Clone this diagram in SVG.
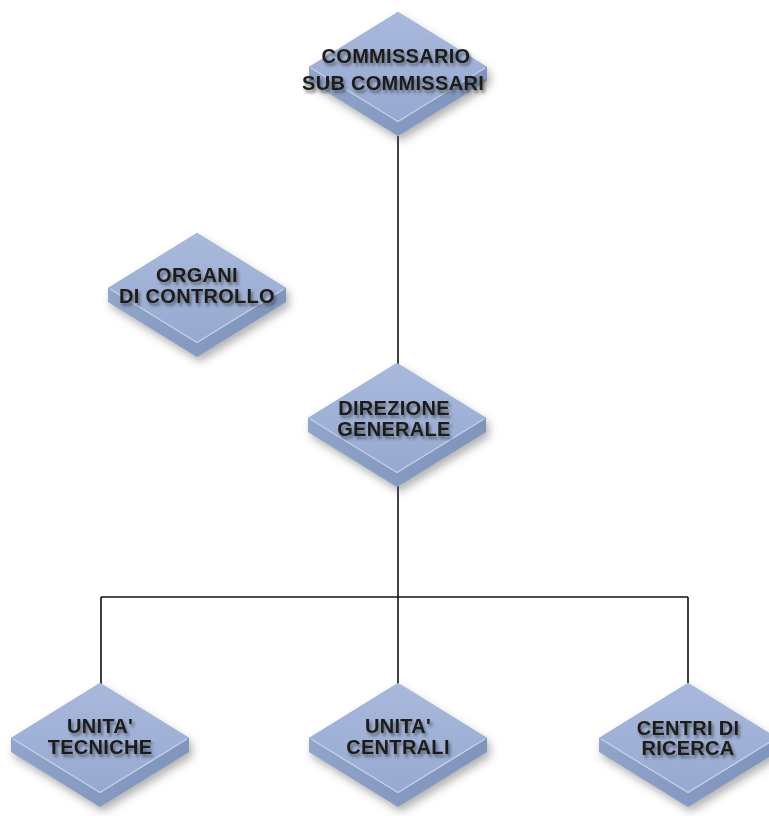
<svg xmlns="http://www.w3.org/2000/svg" xmlns:xlink="http://www.w3.org/1999/xlink" width="769" height="816" viewBox="0 0 769 816">
<style>
.lbl{font-family:"Liberation Sans",Arial,sans-serif;font-weight:bold;font-size:20px;letter-spacing:0.3px;fill:#1a1a1a;text-anchor:middle;filter:url(#ts)}
.conn{stroke:#111;stroke-width:1.6;fill:none}
</style>
<defs>
<linearGradient id="topg" x1="0" y1="0" x2="0" y2="1">
<stop offset="0" stop-color="#a9b9dc"/>
<stop offset="1" stop-color="#97a9d1"/>
</linearGradient>
<linearGradient id="sideg" x1="0" y1="0" x2="1" y2="0">
<stop offset="0" stop-color="#91a4c9"/>
<stop offset="0.5" stop-color="#8599c1"/>
<stop offset="1" stop-color="#8095bc"/>
</linearGradient>
<filter id="sh" x="-30%" y="-30%" width="160%" height="170%">
<feGaussianBlur in="SourceAlpha" stdDeviation="4"/>
<feOffset dx="3" dy="5" result="b"/>
<feFlood flood-color="#555" flood-opacity="0.45"/>
<feComposite in2="b" operator="in"/>
<feMerge><feMergeNode/><feMergeNode in="SourceGraphic"/></feMerge>
</filter>
<filter id="ts" x="-20%" y="-40%" width="140%" height="190%">
<feGaussianBlur in="SourceAlpha" stdDeviation="1.6"/>
<feOffset dx="1.5" dy="2.5" result="b"/>
<feFlood flood-color="#333" flood-opacity="0.6"/>
<feComposite in2="b" operator="in"/>
<feMerge><feMergeNode/><feMergeNode in="SourceGraphic"/></feMerge>
</filter>
<g id="slab">
<path d="M0,0 L89,55 L89,69 L0,124 L-89,69 L-89,55 Z" fill="url(#sideg)" filter="url(#sh)"/>
<path d="M0,0 L89,55 L0,110 L-89,55 Z" fill="url(#topg)"/>
<path d="M-87,56 L0,109.5 L87,56" stroke="#c3d0ea" stroke-width="1.4" fill="none"/>
</g>
</defs>
<rect width="769" height="816" fill="#ffffff"/>
<g id="connectors">
<line class="conn" x1="398" y1="136" x2="398" y2="364"/>
<line class="conn" x1="398" y1="486" x2="398" y2="684"/>
<line class="conn" x1="101" y1="597" x2="688" y2="597"/>
<line class="conn" x1="101" y1="597" x2="101" y2="684"/>
<line class="conn" x1="688" y1="597" x2="688" y2="684"/>
</g>
<g id="commissario">
<use xlink:href="#slab" x="398" y="12"/>
<text class="lbl" x="396" y="63">COMMISSARIO</text>
<text class="lbl" x="393" y="90">SUB COMMISSARI</text>
</g>
<g id="organi">
<use xlink:href="#slab" x="197" y="233"/>
<text class="lbl" x="197" y="282">ORGANI</text>
<text class="lbl" x="197" y="303">DI CONTROLLO</text>
</g>
<g id="direzione">
<use xlink:href="#slab" x="397" y="363"/>
<text class="lbl" x="394" y="415">DIREZIONE</text>
<text class="lbl" x="394" y="436">GENERALE</text>
</g>
<g id="tecniche">
<use xlink:href="#slab" x="100" y="683"/>
<text class="lbl" x="100" y="733">UNITA'</text>
<text class="lbl" x="100" y="754">TECNICHE</text>
</g>
<g id="centrali">
<use xlink:href="#slab" x="398" y="683"/>
<text class="lbl" x="398" y="733">UNITA'</text>
<text class="lbl" x="398" y="754">CENTRALI</text>
</g>
<g id="centri">
<use xlink:href="#slab" x="688" y="683"/>
<text class="lbl" x="688" y="735">CENTRI DI</text>
<text class="lbl" x="688" y="755">RICERCA</text>
</g>
</svg>
